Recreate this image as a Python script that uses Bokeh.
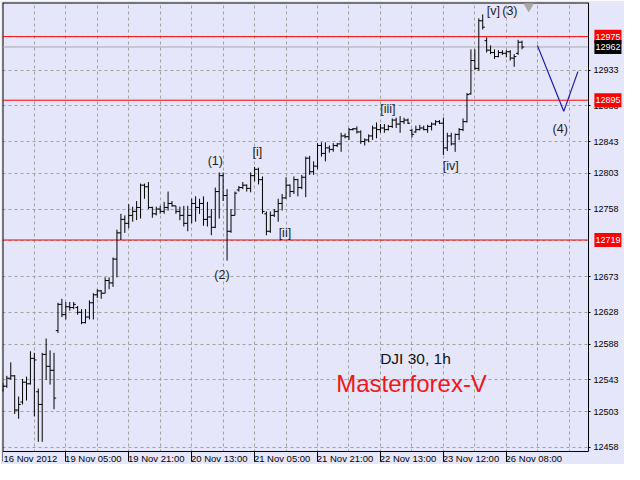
from bokeh.plotting import figure
from bokeh.models import FixedTicker, Label, ColumnDataSource, Range1d
from bokeh.embed import file_html
from bokeh.resources import INLINE
from bokeh.core.properties import value

highs = [12539,12548,12565,12549,12522,12544,12547,12579,12577,12532,
         12577,12595,12580,12577,12640,12645,12641,12641,12641,12636,
         12632,12632,12643,12652,12657,12656,12672,12672,12697,12732,
         12752,12750,12764,12761,12768,12790,12790,12792,12761,12761,
         12762,12767,12780,12768,12762,12761,12762,12762,12771,12774,
         12771,12774,12767,12758,12785,12804,12804,12783,12758,12780,
         12787,12792,12789,12804,12811,12810,12799,12755,12755,12758,
         12771,12777,12798,12789,12799,12796,12801,12824,12825,12818,
         12841,12842,12842,12838,12841,12841,12854,12853,12860,12860,
         12862,12857,12847,12852,12863,12867,12865,12865,12864,12872,
         12873,12875,12873,12872,12859,12863,12864,12863,12864,12867,
         12870,12870,12873,12854,12854,12853,12860,12872,12904,12959,
         12959,12998,13003,12974,12964,12959,12958,12958,12958,12958,
         12953,12971,12970]
lows = [12528,12533,12543,12500,12494,12512,12517,12537,12497,12465,
        12465,12543,12537,12506,12602,12622,12619,12630,12632,12625,
        12613,12614,12619,12619,12646,12645,12652,12657,12660,12672,
        12719,12728,12734,12742,12744,12746,12771,12758,12747,12750,
        12752,12752,12756,12761,12752,12744,12736,12730,12740,12742,
        12752,12737,12736,12725,12734,12746,12768,12693,12728,12750,
        12780,12783,12780,12779,12793,12789,12752,12725,12728,12748,
        12742,12756,12771,12773,12777,12774,12783,12773,12801,12801,
        12808,12824,12818,12829,12830,12836,12830,12847,12845,12857,
        12853,12840,12838,12842,12845,12847,12854,12854,12857,12860,
        12860,12854,12865,12865,12848,12854,12857,12857,12854,12857,
        12863,12865,12826,12831,12838,12830,12845,12856,12867,12902,
        12933,12932,12984,12955,12953,12947,12949,12952,12949,12945,
        12937,12952,12959]
opens = [12530,12535,12545,12548,12505,12515,12540,12538,12570,12528,
         12512,12575,12560,12555,12605,12638,12625,12635,12634,12634,
         12628,12615,12622,12640,12650,12655,12652,12668,12665,12695,
         12728,12745,12740,12750,12755,12760,12788,12786,12760,12752,
         12758,12755,12760,12765,12762,12755,12750,12740,12750,12765,
         12760,12765,12745,12748,12735,12780,12800,12775,12730,12750,
         12782,12785,12788,12784,12800,12808,12795,12752,12730,12750,
         12755,12765,12772,12788,12780,12795,12785,12798,12822,12805,
         12812,12838,12828,12835,12833,12838,12840,12850,12849,12858,
         12859,12855,12843,12845,12850,12860,12858,12860,12858,12862,
         12870,12865,12868,12870,12857,12855,12858,12860,12858,12862,
         12865,12868,12866,12835,12850,12840,12852,12858,12868,12903,
         12945,12935,12995,12970,12958,12955,12950,12955,12954,12956,
         12948,12954,12968]
closes = [12535,12545,12548,12505,12512,12540,12538,12570,12568,12512,
          12575,12560,12555,12520,12638,12625,12635,12634,12638,12628,
          12615,12622,12640,12650,12655,12652,12668,12665,12695,12728,
          12745,12740,12750,12755,12760,12788,12786,12760,12752,12758,
          12755,12760,12765,12762,12755,12750,12740,12750,12765,12760,
          12765,12745,12748,12735,12780,12800,12775,12730,12750,12778,
          12785,12788,12784,12800,12808,12795,12755,12730,12750,12755,
          12765,12772,12788,12780,12795,12785,12798,12822,12805,12812,
          12838,12828,12835,12833,12838,12840,12850,12849,12858,12859,
          12855,12843,12845,12850,12860,12858,12860,12858,12862,12870,
          12865,12868,12870,12866,12852,12858,12860,12858,12862,12865,
          12868,12866,12835,12850,12840,12852,12858,12868,12902,12945,
          12935,12995,12987,12958,12955,12950,12955,12954,12956,12948,
          12950,12968,12962]

time_ticks = [0, 16, 32, 48, 64, 80, 96, 112, 128]
time_labels = ["16 Nov 2012", "19 Nov 05:00", "19 Nov 21:00", "20 Nov 13:00",
               "21 Nov 05:00", "21 Nov 21:00", "22 Nov 13:00", "23 Nov 12:00",
               "26 Nov 08:00"]
grid_x = [8, 16, 24, 32, 40, 48, 56, 64, 72, 80, 88, 96, 104, 112, 120, 128, 136, 144]
price_ticks = [12458, 12503, 12543, 12588, 12628, 12673, 12758, 12803, 12843, 12888, 12933]
grid_y = [12458, 12503, 12543, 12588, 12628, 12673, 12718, 12758, 12803, 12843, 12888, 12933, 12975]
level_values = [12975, 12895, 12719]
current_price = 12962
forecast_x = [135.9, 142.6, 146.2]
forecast_y = [12964, 12881, 12931]
wave_labels = ["(1)", "[i]", "(2)", "[ii]", "[iii]", "[iv]", "[v]", "(3)", "(4)"]
wave_x = [54, 64.7, 55.7, 71.7, 97.9, 113.9, 124.7, 128.9, 141.7]
wave_y = [12818, 12830, 12675, 12728, 12884, 12812, 13007, 13007, 12859]
shift_marker_x = [133.7]
shift_marker_y = [13013]

BG = "#E6E6FA"
FONT = "Liberation Sans"
X_START = -0.1
X_END = 148.9        # right edge of the price frame
X_FULL = 158.05      # right edge of the canvas (price-scale area beyond X_END)
Y_BOT, Y_TOP = 12453, 13018
Y_FULL = 12436.4     # bottom of the canvas (time-scale area below Y_BOT)
LABEL_SHIFT = 7      # time labels sit to the right of their tick mark

p = figure(width=624, height=464, output_backend="svg", toolbar_location=None,
           x_range=Range1d(X_START, X_FULL), y_range=Range1d(Y_FULL, Y_TOP),
           y_axis_location="right", x_axis_location="below",
           min_border_left=2, min_border_top=2, min_border_right=0, min_border_bottom=0)
p.background_fill_color = BG
p.border_fill_color = BG
p.outline_line_color = None

# grids
p.xgrid.ticker = FixedTicker(ticks=grid_x)
p.ygrid.ticker = FixedTicker(ticks=grid_y)
for g in (p.xgrid, p.ygrid):
    g.grid_line_color = "#A0A0A0"
    g.grid_line_dash = "3 3"
    g.grid_line_width = 1

# scale areas background (cover the grid outside the price frame)
p.quad(left=[X_END, X_START - 5], right=[X_FULL + 5, X_FULL + 5],
       bottom=[Y_FULL - 50, Y_FULL - 50], top=[Y_TOP + 50, Y_BOT],
       fill_color=BG, line_color=None)

# time axis, drawn at the bottom edge of the price frame
xa = p.xaxis[0]
xa.fixed_location = Y_BOT
xa.bounds = (X_START, X_END)
label_pos = [t + LABEL_SHIFT for t in time_ticks]
xa.ticker = FixedTicker(ticks=label_pos, minor_ticks=time_ticks)
xa.major_label_overrides = {t: s for t, s in zip(label_pos, time_labels)}
xa.major_label_text_font = FONT
xa.major_label_text_font_size = "9.5px"
xa.major_label_text_color = "black"
xa.major_tick_in = 0
xa.major_tick_out = 10
xa.major_tick_line_color = None
xa.minor_tick_in = 0
xa.minor_tick_out = 10
xa.minor_tick_line_color = "black"
xa.major_label_standoff = -8
xa.axis_line_color = "black"

# price axis, drawn at the right edge of the price frame
ya = p.yaxis[0]
ya.fixed_location = X_END
ya.bounds = (Y_BOT, Y_TOP)
ya.ticker = FixedTicker(ticks=price_ticks)
ya.major_label_text_font = FONT
ya.major_label_text_font_size = "9px"
ya.major_label_text_color = "black"
ya.major_tick_in = 0
ya.major_tick_out = 2
ya.major_label_standoff = 3
ya.minor_tick_line_color = None
ya.axis_line_color = "black"
ya.major_tick_line_color = "black"

# frame borders (left, top)
p.segment(x0=[X_START], y0=[Y_BOT], x1=[X_START], y1=[Y_TOP], line_color="black", line_width=2)
p.segment(x0=[X_START], y0=[Y_TOP], x1=[X_END], y1=[Y_TOP], line_color="black", line_width=2)

# level lines
p.segment(x0=[X_START] * len(level_values), y0=level_values,
          x1=[X_END] * len(level_values), y1=level_values, line_color="#FF0000", line_width=1)
p.segment(x0=[X_START], y0=[current_price], x1=[X_END], y1=[current_price],
          line_color="#A8A8A8", line_width=1)

# OHLC bars
idx = list(range(len(highs)))
src = ColumnDataSource(dict(x=idx, xl=[i - 0.55 for i in idx], xr=[i + 0.55 for i in idx],
                            h=highs, l=lows, o=opens, c=closes))
p.segment(x0="x", y0="h", x1="x", y1="l", source=src, line_color="black", line_width=1)
p.segment(x0="xl", y0="o", x1="x", y1="o", source=src, line_color="black", line_width=1)
p.segment(x0="x", y0="c", x1="xr", y1="c", source=src, line_color="black", line_width=1)

# forecast
p.line(forecast_x, forecast_y, line_color="#1818B0", line_width=1.2)

# shift marker
p.scatter(shift_marker_x, shift_marker_y, marker="inverted_triangle", size=9,
          fill_color="#A8A8A8", line_color="#A8A8A8")

# wave labels
p.text(x=wave_x, y=wave_y, text=wave_labels, text_font=value(FONT), text_font_size="12.5px",
       text_align="center", text_baseline="middle", text_color="#1c1c28")

p.text(x=[104.9], y=[12570], text=["DJI 30, 1h"], text_font=value(FONT), text_font_size="15.5px",
       text_align="center", text_baseline="middle", text_color="#101010")
p.text(x=[103.9], y=[12538], text=["Masterforex-V"], text_font=value(FONT), text_font_size="24px",
       text_align="center", text_baseline="middle", text_color="#F01818")

# price boxes on the price scale
for v in level_values:
    p.add_layout(Label(x=X_END + 1.5, y=v, text=str(v), text_align="left", text_baseline="middle",
                       text_font=FONT, text_font_size="9px", text_color="white",
                       background_fill_color="#FF0000", padding=(1, 4)))
p.add_layout(Label(x=X_END + 1.5, y=current_price, text=str(current_price), text_align="left",
                   text_baseline="middle", text_font=FONT, text_font_size="9px", text_color="white",
                   background_fill_color="black", padding=(1, 4)))

open("out.html", "w").write(file_html(p, INLINE))
